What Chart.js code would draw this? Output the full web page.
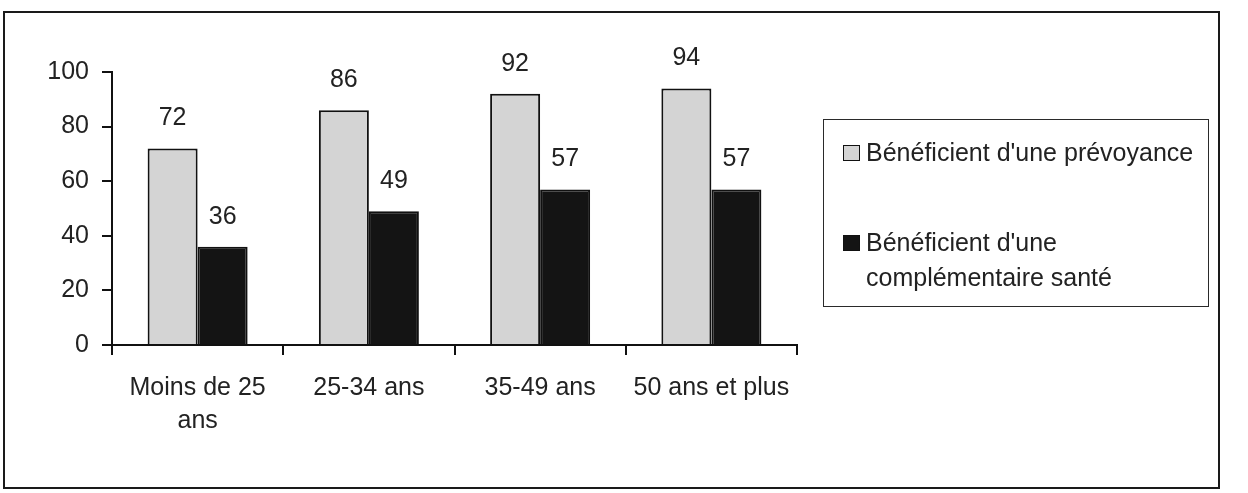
<!DOCTYPE html>
<html lang="fr">
<head>
  <meta charset="UTF-8">
  <title>Prévoyance et complémentaire santé par âge</title>
  <style>
    body {
      margin: 0;
      background: #fff;
      font-family: 'Liberation Sans', Arial, sans-serif;
    }
    #page {
      position: relative;
      width: 1248px;
      height: 493px;
      overflow: hidden;
    }
    #frame {
      position: absolute;
      left: 3px;
      top: 11px;
      width: 1213px;
      height: 474px;
      border: 2px solid #1a1a1a;
    }
    #chartBox {
      position: absolute;
      left: 0;
      top: 0;
      width: 1248px;
      height: 493px;
    }
    #legend {
      position: absolute;
      left: 823px;
      top: 119px;
      width: 386px;
      height: 188px;
      border: 1.5px solid #2a2a2a;
      box-sizing: border-box;
      color: #222;
      font-size: 25px;
    }
    .item {
      position: absolute;
      left: 19px;
      display: flex;
      align-items: flex-start;
      line-height: 35px;
    }
    .swatch {
      width: 15px;
      height: 14px;
      border: 1.5px solid #111;
      margin-top: 10px;
      margin-right: 6px;
      flex: none;
    }
  </style>
</head>
<body>
  <div id="page">
    <div id="frame"></div>
    <div id="chartBox"><canvas id="chart" width="1248" height="493"></canvas></div>
    <div id="legend"></div>
  </div>

  <script src="https://cdn.jsdelivr.net/npm/chart.js"></script>
  <script>
    const categories = [['Moins de 25', 'ans'], '25-34 ans', '35-49 ans', '50 ans et plus'];
    const prevoyance = [72, 86, 92, 94];
    const complementaire = [36, 49, 57, 57];
    const seriesNames = ['Bénéficient d\'une prévoyance', 'Bénéficient d\'une complémentaire santé'];
    const legendLines = [['Bénéficient d\'une prévoyance'], ['Bénéficient d\'une', 'complémentaire santé']];
    const yTicks = [0, 20, 40, 60, 80, 100];

    const fills = ['#d4d4d4', '#141414'];

    // value labels above each bar
    const barLabels = {
      id: 'barLabels',
      afterDatasetsDraw(chart) {
        const ctx = chart.ctx;
        ctx.save();
        ctx.font = '25px "Liberation Sans", Arial, sans-serif';
        ctx.fillStyle = '#222';
        ctx.textAlign = 'center';
        ctx.textBaseline = 'middle';
        chart.data.datasets.forEach((ds, i) => {
          chart.getDatasetMeta(i).data.forEach((bar, j) => {
            ctx.fillText(String(ds.data[j]), bar.x, bar.y - 30);
          });
        });
        ctx.restore();
      }
    };

    Chart.defaults.font.family = '"Liberation Sans", Arial, sans-serif';
    Chart.defaults.font.size = 25;
    Chart.defaults.color = '#222';

    new Chart(document.getElementById('chart'), {
      type: 'bar',
      data: {
        labels: categories,
        datasets: [
          {
            label: seriesNames[0],
            data: prevoyance,
            backgroundColor: fills[0],
            borderColor: '#111',
            borderWidth: 2,
            categoryPercentage: 0.584,
            barPercentage: 1
          },
          {
            label: seriesNames[1],
            data: complementaire,
            backgroundColor: fills[1],
            borderColor: '#111',
            borderWidth: 2,
            categoryPercentage: 0.584,
            barPercentage: 1
          }
        ]
      },
      options: {
        responsive: false,
        animation: false,
        layout: { padding: { left: 0, right: 451, top: 72, bottom: 0 } },
        plugins: {
          legend: { display: false },
          tooltip: { enabled: false }
        },
        scales: {
          x: {
            afterFit: (s) => { s.height = 148; },
            grid: {
              offset: true,
              drawOnChartArea: false,
              drawTicks: true,
              tickLength: 10,
              color: '#111',
              lineWidth: 2
            },
            border: { display: true, color: '#111', width: 2 },
            ticks: {
              padding: 17,
              maxRotation: 0,
              autoSkip: false,
              font: { size: 25, lineHeight: 1.32 },
              color: '#222'
            }
          },
          y: {
            min: 0,
            max: 100,
            afterFit: (s) => { s.width = 112; },
            afterBuildTicks: (s) => { s.ticks = yTicks.map(v => ({ value: v })); },
            grid: {
              drawOnChartArea: false,
              drawTicks: true,
              tickLength: 10,
              color: '#111',
              lineWidth: 2
            },
            border: { display: true, color: '#111', width: 2 },
            ticks: {
              padding: 13,
              font: { size: 25 },
              color: '#222'
            }
          }
        }
      },
      plugins: [barLabels]
    });

    // legend box
    const legend = document.getElementById('legend');
    const tops = [0, 90];
    legendLines.forEach((lines, i) => {
      const item = document.createElement('div');
      item.className = 'item';
      item.style.top = (15 + tops[i]) + 'px';
      const sw = document.createElement('div');
      sw.className = 'swatch';
      sw.style.background = fills[i];
      const txt = document.createElement('div');
      txt.innerHTML = lines.join('<br>');
      item.appendChild(sw);
      item.appendChild(txt);
      legend.appendChild(item);
    });
  </script>
</body>
</html>
